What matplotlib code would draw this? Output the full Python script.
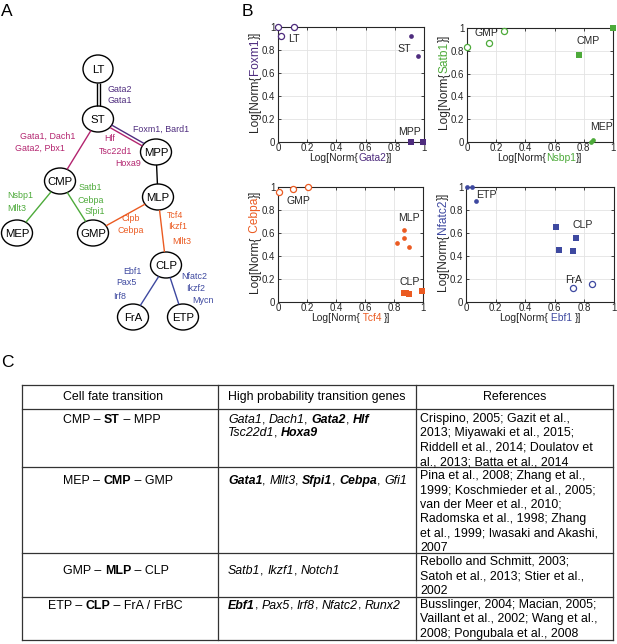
import matplotlib
matplotlib.use('Agg')
import matplotlib.pyplot as plt
from matplotlib.patches import Ellipse
import numpy as np

plt.rcParams['font.family'] = ['Liberation Sans', 'DejaVu Sans']

W, H = 617, 644
PURPLE = '#4e2c7e'
MAGENTA = '#b3246f'
GREEN = '#4daa3a'
ORANGE = '#eb5b22'
BLUE = '#3e49a0'
DARK = '#262626'

# ---------------- panel A: lineage tree ----------------
tree_nodes = ['LT', 'ST', 'MPP', 'CMP', 'MLP', 'MEP', 'GMP', 'CLP', 'FrA', 'ETP']
tree_edges = [('LT', 'ST', ['k', 'k']), ('ST', 'MPP', [PURPLE, MAGENTA]),
              ('ST', 'CMP', [MAGENTA]), ('MPP', 'MLP', ['k']),
              ('CMP', 'MEP', [GREEN]), ('CMP', 'GMP', [GREEN]),
              ('MLP', 'GMP', [ORANGE]), ('MLP', 'CLP', [ORANGE]),
              ('CLP', 'FrA', [BLUE]), ('CLP', 'ETP', [BLUE])]
edge_genes = [
    (['Gata2', 'Gata1'], PURPLE),
    (['Gata1, Dach1', 'Gata2, Pbx1'], MAGENTA),
    (['Foxm1, Bard1'], PURPLE),
    (['Hlf', 'Tsc22d1', 'Hoxa9'], MAGENTA),
    (['Nsbp1', 'Mllt3'], GREEN),
    (['Satb1', 'Cebpa', 'Sfpi1'], GREEN),
    (['Clpb', 'Cebpa'], ORANGE),
    (['Tcf4', 'Ikzf1', 'Mllt3'], ORANGE),
    (['Ebf1', 'Pax5', 'Irf8'], BLUE),
    (['Nfatc2', 'Ikzf2', 'Mycn'], BLUE),
]

# layout of the drawing (pixels)
node_pos = {'LT': (98, 69), 'ST': (98, 119), 'MPP': (156, 152), 'CMP': (60, 181),
            'MLP': (158, 197), 'MEP': (17, 233), 'GMP': (93, 233), 'CLP': (166, 265),
            'FrA': (133, 317), 'ETP': (183, 317)}
node_size = {'LT': (30, 28)}
gene_pos = [[(107, 89), (107, 100)], [(20, 136), (15, 148)], [(133, 129)],
            [(104, 138), (99, 151), (115, 163)], [(7, 195), (7, 208)],
            [(79, 187), (78, 200), (85, 211)], [(122, 218), (117, 230)],
            [(167, 215), (168, 226), (172, 241)], [(123, 271), (116, 282), (113, 296)],
            [(181, 276), (186, 288), (192, 300)]]

# ---------------- panel B: scatter plots ----------------
scatter_panels = [
    dict(xg='Gata2', yg='Foxm1', color=PURPLE, groups=[
        ('LT', 'open', [0.0, 0.02, 0.11], [1.0, 0.92, 1.0], (0.07, 0.9)),
        ('ST', 'dot', [0.91, 0.96], [0.92, 0.75], (0.82, 0.81)),
        ('MPP', 'square', [0.91, 0.99], [0.0, 0.0], (0.82, 0.09))]),
    dict(xg='Nsbp1', yg='Satb1', color=GREEN, groups=[
        ('GMP', 'open', [0.0, 0.15, 0.25], [0.83, 0.87, 0.97], (0.05, 0.96)),
        ('CMP', 'square', [0.77, 1.0], [0.76, 1.0], (0.75, 0.89)),
        ('MEP', 'dot', [0.85, 0.86], [0.0, 0.02], (0.84, 0.13))]),
    dict(xg=' Tcf4 ', yg=' Cebpa', color=ORANGE, groups=[
        ('GMP', 'open', [0.01, 0.1, 0.21], [0.96, 0.98, 1.0], (0.06, 0.88)),
        ('MLP', 'dot', [0.82, 0.87, 0.87, 0.9], [0.51, 0.63, 0.56, 0.48], (0.83, 0.73)),
        ('CLP', 'square', [0.87, 0.88, 0.9, 0.99], [0.08, 0.08, 0.07, 0.1], (0.84, 0.17))]),
    dict(xg=' Ebf1 ', yg='Nfatc2', color=BLUE, groups=[
        ('ETP', 'dot', [0.01, 0.04, 0.07], [1.0, 1.0, 0.88], (0.07, 0.93)),
        ('CLP', 'square', [0.61, 0.74, 0.63, 0.72], [0.65, 0.56, 0.45, 0.44], (0.72, 0.67)),
        ('FrA', 'open', [0.72, 0.85], [0.12, 0.16], (0.67, 0.19))]),
]
ticks = [0, 0.2, 0.4, 0.6, 0.8, 1]
tick_labels = ['0', '0.2', '0.4', '0.6', '0.8', '1']
scatter_rects = [(278, 27, 424, 142), (467, 28, 613, 142),
                 (278, 187, 423, 302), (466, 187, 614, 302)]

# ---------------- panel C: table ----------------
header = ['Cell fate transition', 'High probability transition genes', 'References']
transitions = [
    [('CMP – ', 'n'), ('ST', 'b'), (' – MPP', 'n')],
    [('MEP – ', 'n'), ('CMP', 'b'), (' – GMP', 'n')],
    [('GMP – ', 'n'), ('MLP', 'b'), (' – CLP', 'n')],
    [('ETP – ', 'n'), ('CLP', 'b'), (' – FrA / FrBC', 'n')],
]
genes = [
    [[('Gata1', 'i'), (', ', 'n'), ('Dach1', 'i'), (', ', 'n'), ('Gata2', 'bi'),
      (', ', 'n'), ('Hlf', 'bi')],
     [('Tsc22d1', 'i'), (', ', 'n'), ('Hoxa9', 'bi')]],
    [[('Gata1', 'bi'), (', ', 'n'), ('Mllt3', 'i'), (', ', 'n'), ('Sfpi1', 'bi'),
      (', ', 'n'), ('Cebpa', 'bi'), (', ', 'n'), ('Gfi1', 'i')]],
    [[('Satb1', 'i'), (', ', 'n'), ('Ikzf1', 'i'), (', ', 'n'), ('Notch1', 'i')]],
    [[('Ebf1', 'bi'), (', ', 'n'), ('Pax5', 'i'), (', ', 'n'), ('Irf8', 'i'),
      (', ', 'n'), ('Nfatc2', 'i'), (', ', 'n'), ('Runx2', 'i')]],
]
references = [
    ['Crispino, 2005; Gazit et al.,', '2013; Miyawaki et al., 2015;',
     'Riddell et al., 2014; Doulatov et', 'al., 2013; Batta et al., 2014'],
    ['Pina et al., 2008; Zhang et al.,', '1999; Koschmieder et al., 2005;',
     'van der Meer et al., 2010;', 'Radomska et al., 1998; Zhang',
     'et al., 1999; Iwasaki and Akashi,', '2007'],
    ['Rebollo and Schmitt, 2003;', 'Satoh et al., 2013; Stier et al.,', '2002'],
    ['Busslinger, 2004; Macian, 2005;', 'Vaillant et al., 2002; Wang et al.,',
     '2008; Pongubala et al., 2008'],
]
row_lines = [385, 409, 467, 553, 597, 640]
col_lines = [22, 218, 416, 613]
row_text_y = [420, 481, 571, 606]
col1_left = [63, 63, 63, 48]
ref_first_y = [419, 476, 562, 605]

STYLES = {'n': {}, 'i': dict(fontstyle='italic'), 'b': dict(fontweight='bold'),
          'bi': dict(fontstyle='italic', fontweight='bold')}

fig = plt.figure(figsize=(W / 100, H / 100), dpi=100)
ov = fig.add_axes([0, 0, 1, 1])
ov.set_xlim(0, W)
ov.set_ylim(H, 0)
ov.axis('off')
ov.patch.set_visible(False)
renderer = fig.canvas.get_renderer()


def advance(s, size, kw):
    t1 = ov.text(0, 0, '|' + s + '|', fontsize=size, **kw)
    t2 = ov.text(0, 0, '||', fontsize=size, **kw)
    w = t1.get_window_extent(renderer).width - t2.get_window_extent(renderer).width
    t1.remove()
    t2.remove()
    return w


def rich(x, y, parts, size, ha='left', rot=False):
    # parts: list of (text, style, color)
    widths = [advance(s, size, STYLES[st]) for s, st, c in parts]
    pos = -sum(widths) / 2 if ha == 'center' else 0
    for (s, st, c), w in zip(parts, widths):
        if rot:
            ov.text(x, y - pos, s, fontsize=size, color=c, rotation=90,
                    ha='center', va='bottom', **STYLES[st])
        else:
            ov.text(x + pos, y, s, fontsize=size, color=c, ha='left',
                    va='center', **STYLES[st])
        pos += w


# panel letters
ov.text(1, 4, 'A', fontsize=12.5, va='top')
ov.text(242, 4, 'B', fontsize=12.5, va='top')
ov.text(1, 355, 'C', fontsize=12.5, va='top')


def node_wh(n):
    return node_size.get(n, (31, 26))


def boundary(n, u):
    w, h = node_wh(n)
    return 1 / np.sqrt((u[0] / (w / 2)) ** 2 + (u[1] / (h / 2)) ** 2)


for a, b, colors in tree_edges:
    pa, pb = np.array(node_pos[a], float), np.array(node_pos[b], float)
    d = pb - pa
    u = d / np.linalg.norm(d)
    perp = np.array([-u[1], u[0]])
    offs = [0.0] if len(colors) == 1 else [-1.5, 1.5]
    s = pa + u * boundary(a, u)
    e = pb - u * boundary(b, u)
    for c, o in zip(colors, offs):
        ov.plot([s[0] + perp[0] * o, e[0] + perp[0] * o],
                [s[1] + perp[1] * o, e[1] + perp[1] * o], color=c, lw=1.0,
                solid_capstyle='butt')

for n in tree_nodes:
    w, h = node_wh(n)
    ov.add_patch(Ellipse(node_pos[n], w, h, facecolor='white', edgecolor='k', lw=1.0))
    ov.text(node_pos[n][0], node_pos[n][1] + 0.5, n, fontsize=8.2, ha='center', va='center')

for (labels, color), positions in zip(edge_genes, gene_pos):
    for lab, (x, y) in zip(labels, positions):
        ov.text(x, y, lab, fontsize=6.4, color=color, ha='left', va='center')

# panel B
marker_style = {
    'open': dict(marker='o', ms=4.4, mfc='white', mew=0.9),
    'dot': dict(marker='o', ms=3.4, mew=0),
    'square': dict(marker='s', ms=5.0, mew=0),
}
for spec, (l, t, r, b) in zip(scatter_panels, scatter_rects):
    ax = fig.add_axes([l / W, 1 - b / H, (r - l) / W, (b - t) / H])
    c = spec['color']
    for name, kind, xs, ys, (tx, ty) in spec['groups']:
        ax.plot(xs, ys, ls='none', color=c, mec=c, clip_on=False, zorder=3,
                **marker_style[kind])
        ax.text(tx, ty, name, fontsize=7.6, color=DARK, ha='left', va='center')
    ax.set_xlim(0, 1)
    ax.set_ylim(0, 1)
    ax.set_xticks(ticks)
    ax.set_yticks(ticks)
    ax.set_xticklabels(tick_labels)
    ax.set_yticklabels(tick_labels)
    ax.grid(color='#e3e3e3', lw=0.6)
    ax.set_axisbelow(True)
    ax.tick_params(direction='in', length=2.5, width=0.6, labelsize=7,
                   colors=DARK, top=True, right=True)
    ax.tick_params(axis='x', pad=1.0)
    ax.tick_params(axis='y', pad=2)
    for sp in ax.spines.values():
        sp.set_color(DARK)
        sp.set_linewidth(0.8)
    rich((l + r) / 2, b + 16, [('Log[Norm{', 'n', DARK), (spec['xg'], 'n', c),
                               ('}]', 'n', DARK)], 7.4, ha='center')
    rich(l - 23, (t + b) / 2 - 3, [('Log[Norm{', 'n', DARK), (spec['yg'], 'n', c),
                                   ('}]', 'n', DARK)], 8.6, ha='center', rot=True)

# panel C: table
for y in row_lines:
    ov.plot([col_lines[0], col_lines[-1]], [y, y], color='#333333', lw=0.9)
for x in col_lines:
    ov.plot([x, x], [row_lines[0], row_lines[-1]], color='#333333', lw=0.9)

FS = 8.9
hy = (row_lines[0] + row_lines[1]) / 2
ov.text(col1_left[0], hy, header[0], fontsize=FS, ha='left', va='center')
ov.text(col_lines[1] + 10, hy, header[1], fontsize=FS, ha='left', va='center')
ov.text((col_lines[2] + col_lines[3]) / 2, hy, header[2], fontsize=FS,
        ha='center', va='center')

LS = 14.4
for i in range(4):
    y0 = row_text_y[i]
    rich(col1_left[i], y0, [(s, st, 'k') for s, st in transitions[i]], FS)
    for j, line in enumerate(genes[i]):
        rich(col_lines[1] + 10, y0 + j * 13, [(s, st, 'k') for s, st in line], FS)
    for j, line in enumerate(references[i]):
        ov.text(col_lines[2] + 4, ref_first_y[i] + j * LS, line, fontsize=FS,
                ha='left', va='center')

fig.savefig('out.png', dpi=100)
